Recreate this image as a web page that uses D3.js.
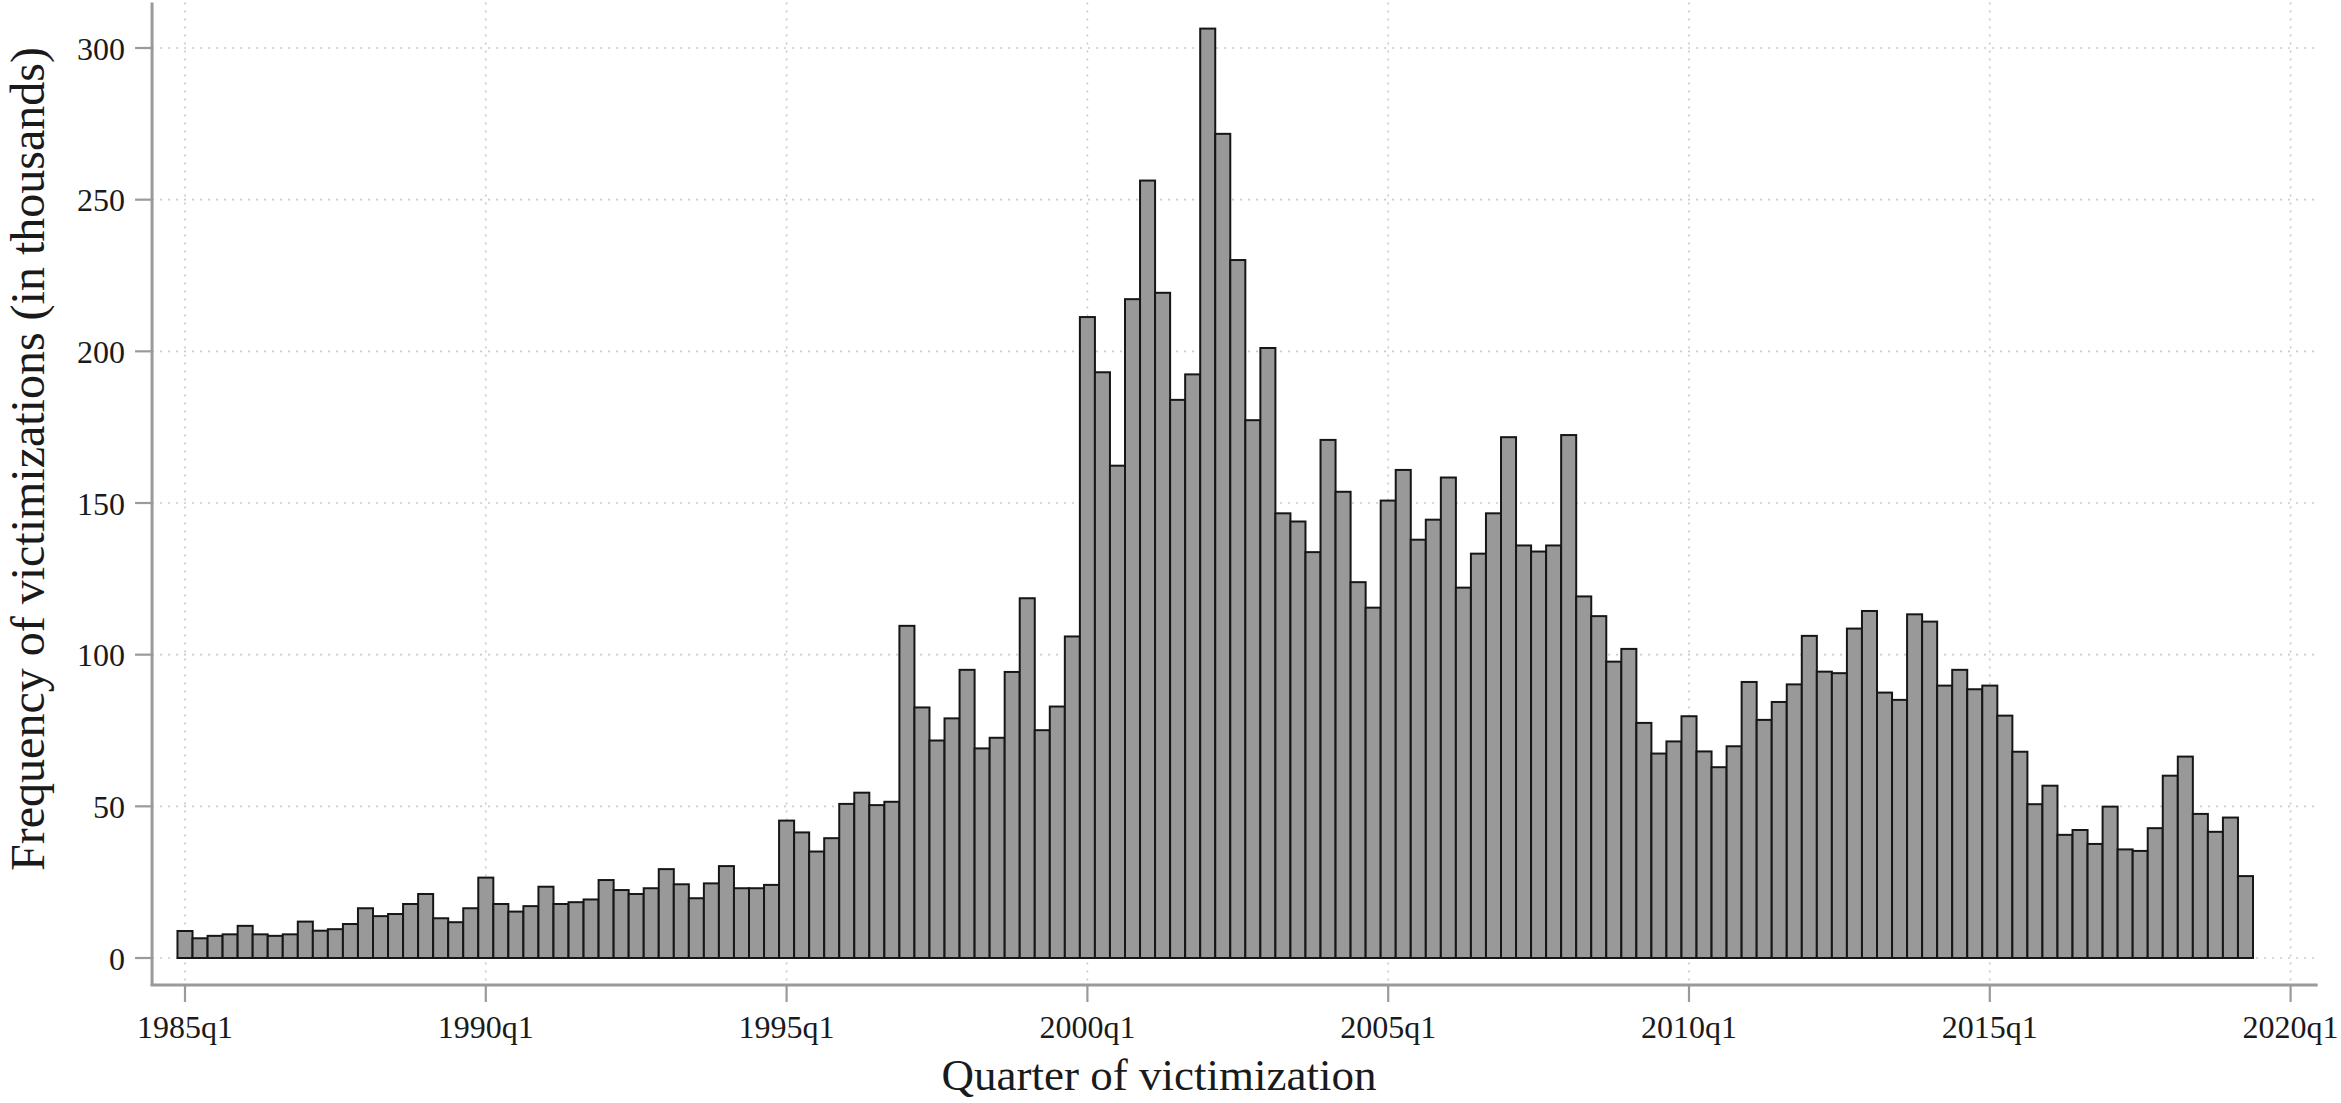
<!DOCTYPE html>
<html>
<head>
<meta charset="utf-8">
<script src="https://cdn.jsdelivr.net/npm/d3@7"></script>
<style>
  html, body { margin: 0; padding: 0; background: #ffffff; }
  svg { display: block; }
  text { font-family: "Liberation Serif", "Times New Roman", serif; fill: #1a1a1a; }
</style>
</head>
<body>
<svg id="chart" width="2341" height="1103"></svg>
<script>
// ---- Data (frequency of victimizations, thousands), one value per quarter, 1985q1 .. 2019q2
const startYear = 1985;
const values = [
  8.9, 6.5, 7.3, 7.8, 10.6, 7.8, 7.3, 7.8, 12.0, 9.0,
  9.5, 11.2, 16.4, 13.8, 14.5, 17.8, 21.1, 13.1, 11.8, 16.4,
  26.5, 17.8, 15.3, 17.1, 23.5, 17.8, 18.4, 19.3, 25.7, 22.4,
  21.1, 23.0, 29.3, 24.3, 19.7, 24.6, 30.3, 23.0, 23.0, 24.1,
  45.3, 41.4, 35.1, 39.5, 50.8, 54.5, 50.4, 51.5, 109.5, 82.6,
  71.7, 79.0, 95.0, 69.1, 72.6, 94.3, 118.6, 75.1, 82.9, 106.0,
  211.3, 193.1, 162.3, 217.2, 256.3, 219.3, 184.0, 192.4, 306.4, 271.7,
  230.1, 177.3, 201.1, 146.6, 143.9, 133.8, 170.8, 153.7, 123.9, 115.5,
  150.8, 160.9, 137.9, 144.5, 158.4, 122.1, 133.3, 146.6, 171.7, 136.0,
  134.0, 136.0, 172.4, 119.2, 112.7, 97.7, 101.9, 77.5, 67.4, 71.4,
  79.7, 68.1, 62.9, 69.8, 91.0, 78.5, 84.4, 90.2, 106.2, 94.4,
  93.9, 108.6, 114.4, 87.5, 85.1, 113.3, 110.9, 89.8, 95.0, 88.6,
  89.8, 79.9, 68.0, 50.7, 56.8, 40.6, 42.2, 37.6, 49.9, 35.8,
  35.3, 42.8, 60.1, 66.4, 47.5, 41.6, 46.3, 27.0
];
const quarters = values.map((v, i) => (startYear + Math.floor(i / 4)) + "q" + (i % 4 + 1));
const xTickLabels = ["1985q1", "1990q1", "1995q1", "2000q1", "2005q1", "2010q1", "2015q1", "2020q1"];
const yTickValues = [0, 50, 100, 150, 200, 250, 300];
const xTitle = "Quarter of victimization";
const yTitle = "Frequency of victimizations (in thousands)";

// ---- Layout
const svg = d3.select("#chart");
const qIndex = lab => (parseInt(lab.slice(0, 4)) - startYear) * 4 + (parseInt(lab.slice(5)) - 1);

const x = d3.scaleLinear().domain([0, 140]).range([185, 2290.6]);
const y = d3.scaleLinear().domain([0, 300]).range([958, 48]);

const axisLeftX = x(-2.19);
const axisRightX = x(141.8);
const axisBottomY = y(-8.9);
const axisTopY = y(315);

// ---- Grid lines
const grid = svg.append("g");
grid.selectAll("line.hg").data(yTickValues).join("line")
  .attr("x1", axisLeftX).attr("x2", axisRightX)
  .attr("y1", d => y(d)).attr("y2", d => y(d))
  .attr("stroke", "#c9c9c9").attr("stroke-width", 1.6)
  .attr("stroke-dasharray", "2,6");
grid.selectAll("line.vg").data(xTickLabels).join("line")
  .attr("x1", d => x(qIndex(d))).attr("x2", d => x(qIndex(d)))
  .attr("y1", axisTopY).attr("y2", axisBottomY)
  .attr("stroke", "#c9c9c9").attr("stroke-width", 1.6)
  .attr("stroke-dasharray", "2,6");

// ---- Bars
const bw = x(1) - x(0);
svg.append("g").selectAll("rect").data(values).join("rect")
  .attr("x", (d, i) => x(i) - bw / 2)
  .attr("width", bw)
  .attr("y", d => y(d))
  .attr("height", d => y(0) - y(d))
  .attr("fill", "#999999")
  .attr("stroke", "#161616")
  .attr("stroke-width", 2);

// ---- Axes (lines)
const axisColor = "#9a9a9a";
svg.append("line")
  .attr("x1", axisLeftX).attr("x2", axisLeftX)
  .attr("y1", axisTopY).attr("y2", axisBottomY)
  .attr("stroke", axisColor).attr("stroke-width", 3);
svg.append("line")
  .attr("x1", axisLeftX - 1.5).attr("x2", axisRightX)
  .attr("y1", axisBottomY).attr("y2", axisBottomY)
  .attr("stroke", axisColor).attr("stroke-width", 3);

// y ticks + labels
const yt = svg.append("g").selectAll("g").data(yTickValues).join("g");
yt.append("line")
  .attr("x1", axisLeftX - 17).attr("x2", axisLeftX)
  .attr("y1", d => y(d)).attr("y2", d => y(d))
  .attr("stroke", axisColor).attr("stroke-width", 2.2);
yt.append("text")
  .attr("x", axisLeftX - 27)
  .attr("y", d => y(d))
  .attr("dy", "0.36em")
  .attr("text-anchor", "end")
  .attr("font-size", 32)
  .text(d => d);

// x ticks + labels
const xt = svg.append("g").selectAll("g").data(xTickLabels).join("g");
xt.append("line")
  .attr("x1", d => x(qIndex(d))).attr("x2", d => x(qIndex(d)))
  .attr("y1", axisBottomY).attr("y2", axisBottomY + 17)
  .attr("stroke", axisColor).attr("stroke-width", 2.2);
xt.append("text")
  .attr("x", d => x(qIndex(d)))
  .attr("y", 1038)
  .attr("text-anchor", "middle")
  .attr("font-size", 32)
  .text(d => d);

// ---- Titles
svg.append("text")
  .attr("x", 1159).attr("y", 1090)
  .attr("text-anchor", "middle")
  .attr("font-size", 45)
  .text(xTitle);
svg.append("text")
  .attr("transform", "translate(44,459) rotate(-90)")
  .attr("text-anchor", "middle")
  .attr("font-size", 48)
  .text(yTitle);
</script>
</body>
</html>
